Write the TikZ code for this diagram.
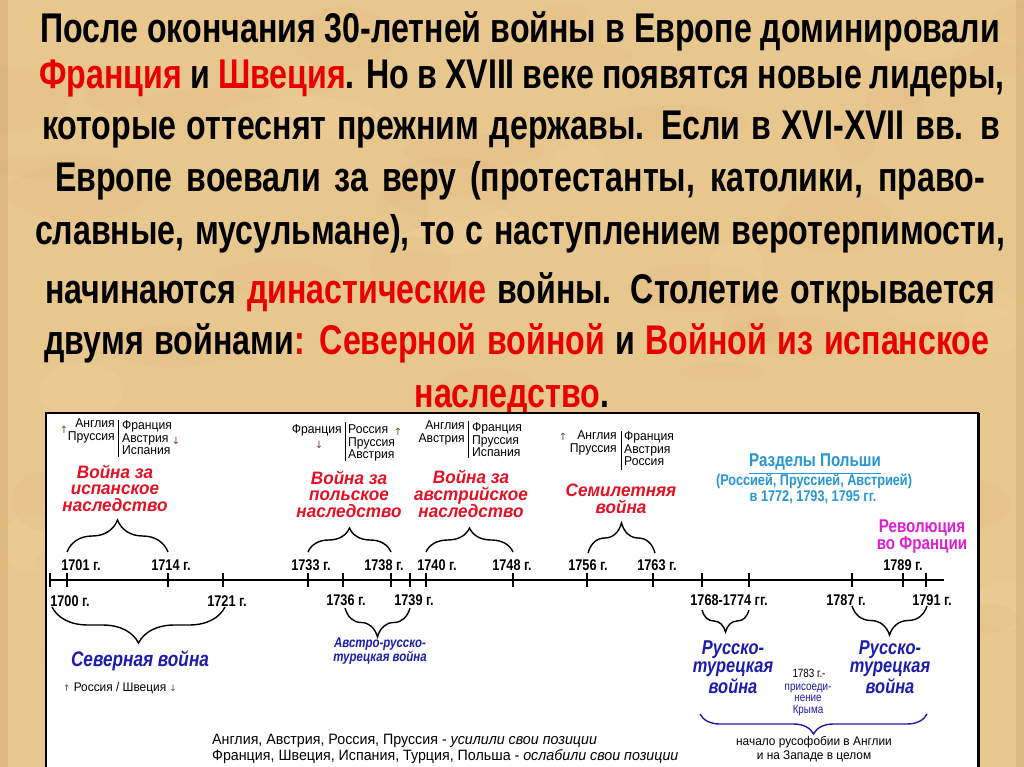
\documentclass[tikz,border=0pt]{standalone}
\usepackage{fontspec}
\setmainfont{Liberation Sans}[FakeStretch=0.82]
\newfontfamily\semiwide{Liberation Sans}[FakeStretch=0.95]
\newfontfamily\titleface{Liberation Sans}[FakeStretch=0.775]
\newfontfamily\arrowfont{DejaVu Sans}
\usetikzlibrary{decorations.pathreplacing}
\definecolor{parch}{RGB}{232,199,142}
\definecolor{parchdark}{RGB}{212,174,116}
\definecolor{parchlight}{RGB}{242,214,164}
\definecolor{titlered}{RGB}{232,0,0}
\definecolor{warred}{RGB}{228,16,36}
\definecolor{warblue}{RGB}{28,28,175}
\definecolor{partblue}{RGB}{38,150,212}
\definecolor{revmag}{RGB}{222,32,212}
\definecolor{arrowbrown}{RGB}{120,72,40}
\tikzset{
  tline/.style={font=\titleface\fontsize{41.5}{44}\selectfont\bfseries, inner sep=0, anchor=base},
  yr/.style={font=\fontsize{15.5}{16}\selectfont\bfseries, inner sep=0},
  cty/.style={font=\semiwide\fontsize{12.8}{12.5}\selectfont, inner sep=0},
  wart/.style={font=\semiwide\fontsize{18}{16.5}\selectfont\bfseries\itshape, text=warred, align=center, inner sep=0},
  bluewar/.style={font=\fontsize{20}{18.5}\selectfont\bfseries\itshape, text=warblue, align=center, inner sep=0},
  smallnote/.style={font=\fontsize{12}{11.8}\selectfont, inner sep=0, align=center},
  arr/.style={font=\arrowfont\fontsize{10}{10}\selectfont, text=arrowbrown, inner sep=0},
  tickmark/.style={line width=2.2pt},
  axisline/.style={line width=2.4pt},
  bar/.style={line width=1pt},
  brc/.style={decorate, decoration={brace, amplitude=#1}, line width=1.4pt},
  brcdown/.style={decorate, decoration={brace, mirror, amplitude=#1}, line width=1.4pt},
}
\begin{document}
\begin{tikzpicture}[x=1pt,y=-1pt]
\useasboundingbox (0,0) rectangle (1024,767);
\fill[parch] (0,0) rectangle (1024,767);
\pgfmathsetseed{7}
\foreach \i in {1,...,60}{
  \pgfmathsetmacro{\cx}{rnd*1024}
  \pgfmathsetmacro{\cy}{rnd*767}
  \pgfmathsetmacro{\rx}{20+rnd*60}
  \pgfmathsetmacro{\ry}{8+rnd*25}
  \pgfmathsetmacro{\sh}{rnd}
  \ifdim\sh pt<0.5pt
    \fill[parchdark, opacity=0.14] (\cx,\cy) ellipse [x radius=\rx, y radius=\ry];
  \else
    \fill[parchlight, opacity=0.2] (\cx,\cy) ellipse [x radius=\rx, y radius=\ry];
  \fi
}
\fill[parchdark, opacity=0.6] (0,0) rectangle (8,767);
\fill[parchdark, opacity=0.5] (1016,0) rectangle (1024,767);

% title text
\node[tline] (t1) at (520,43) {\makebox[960pt][s]{После окончания 30-летней войны в Европе доминировали}};
\node[tline] (t2) at (522,89) {\makebox[965pt][s]{\textcolor{titlered}{Франция} и \textcolor{titlered}{Швеция}. Но в XVIII веке появятся новые лидеры,}};
\node[tline] (t3) at (521,140) {\makebox[958pt][s]{которые оттеснят прежним державы. Если в XVI-XVII вв. в}};
\node[tline] (t4) at (520,192) {\makebox[930pt][s]{Европе воевали за веру (протестанты, католики, право-}};
\node[tline] (t5) at (520,244) {\makebox[970pt][s]{славные, мусульмане), то с наступлением веротерпимости,}};
\node[tline] (t6) at (520,303) {\makebox[950pt][s]{начинаются \textcolor{titlered}{династические} войны. Столетие открывается}};
\node[tline] (t7) at (517,354) {\makebox[945pt][s]{двумя войнами\textcolor{titlered}{: Северной войной} и \textcolor{titlered}{Войной из испанское}}};
\node[tline] (t8) at (512,407) {\textcolor{titlered}{наследство}.};

% panel
\draw[line width=2pt, fill=white] (46,413) rectangle (978,790);
\draw[line width=3pt] (978,413) -- (978,790);

% axis and ticks
\coordinate (axL) at (49,580);
\coordinate (axR) at (944,580);
\draw[axisline] (axL) -- (axR);
\foreach \n/\x in {1700/50,1701/67,1714/168,1721/223,1733/308,1736/343,1738/391,1739/410,1740/426,1748/513,1756/587,1763/653,1768/702,1774/749,1787/852,1789/903,1791/926}{
  \coordinate (y\n) at (\x,580);
  \draw[tickmark] ([yshift=7pt]y\n) -- ([yshift=-7pt]y\n);
}

% year labels above
\node[yr] (l1701) at (81,565) {1701 г.};
\node[yr] (l1714) at (171,565) {1714 г.};
\node[yr] (l1733) at (311,565) {1733 г.};
\node[yr] (l1738) at (384,565) {1738 г.};
\node[yr] (l1740) at (437,565) {1740 г.};
\node[yr] (l1748) at (512,565) {1748 г.};
\node[yr] (l1756) at (588,565) {1756 г.};
\node[yr] (l1763) at (657,565) {1763 г.};
\node[yr] (l1789) at (903,565) {1789 г.};
% year labels below
\node[yr] (l1700) at (70,601) {1700 г.};
\node[yr] (l1721) at (227,601) {1721 г.};
\node[yr] (l1736) at (346,600) {1736 г.};
\node[yr] (l1739) at (414,600) {1739 г.};
\node[yr] (l1768) at (729,600) {1768-1774 гг.};
\node[yr] (l1787) at (846,600) {1787 г.};
\node[yr] (l1791) at (932,600) {1791 г.};

% group 1: Spanish succession
\node[cty, align=right, anchor=east] (g1l) at (115,431) {Англия\\Пруссия};
\node[cty, align=left, anchor=west] (g1r) at (122,438) {Франция\\Австрия\\Испания};
\draw[bar] (118,420) coordinate (g1bt) -- (118,457) coordinate (g1bb);
\node[arr] (g1up) at (64,430) {↑};
\node[arr] (g1dn) at (176,441) {↓};
\node[wart] (w1) at (115,488) {Война за\\испанское\\наследство};
\coordinate (b1a) at (67,552);
\coordinate (b1b) at (168,552);
\draw[brc=32pt] (b1a) -- (b1b);

% group 2: Polish succession
\node[cty, anchor=east] (g2l) at (342,430) {Франция};
\node[cty, align=left, anchor=west] (g2r) at (348,443) {Россия\\Пруссия\\Австрия};
\draw[bar] (345,422) coordinate (g2bt) -- (345,461) coordinate (g2bb);
\node[arr] (g2dn) at (319,445) {↓};
\node[arr] (g2up) at (398,432) {↑};
\node[wart] (w2) at (349,494) {Война за\\польское\\наследство};
\coordinate (b2a) at (308,552);
\coordinate (b2b) at (391,552);
\draw[brc=24pt] (b2a) -- (b2b);

% group 3: Austrian succession
\node[cty, align=right, anchor=east] (g3l) at (465,433) {Англия\\Австрия};
\node[cty, align=left, anchor=west] (g3r) at (472,440) {Франция\\Пруссия\\Испания};
\draw[bar] (468,421) coordinate (g3bt) -- (468,458) coordinate (g3bb);
\node[wart] (w3) at (471,494) {Война за\\австрийское\\наследство};
\coordinate (b3a) at (426,552);
\coordinate (b3b) at (513,552);
\draw[brc=24pt] (b3a) -- (b3b);

% group 4: Seven Years War
\node[cty, align=right, anchor=east] (g4l) at (617,443) {Англия\\Пруссия};
\node[cty, align=left, anchor=west] (g4r) at (624,449) {Франция\\Австрия\\Россия};
\draw[bar] (621,431) coordinate (g4bt) -- (621,470) coordinate (g4bb);
\node[arr] (g4up) at (563,437) {↑};
\node[wart] (w4) at (621,499) {Семилетняя\\война};
\coordinate (b4a) at (588,553);
\coordinate (b4b) at (655,553);
\draw[brc=30pt] (b4a) -- (b4b);

% partitions of Poland
\node[font=\fontsize{18.5}{20}\selectfont\bfseries, text=partblue, inner sep=0] (p1) at (815,462) {Разделы Польши};
\draw[partblue, line width=1.3pt] ([yshift=-3pt]p1.south west) -- ([yshift=-3pt]p1.south east);
\node[font=\fontsize{15.5}{17}\selectfont\bfseries, text=partblue, inner sep=0] (p2) at (814,481) {(Россией, Пруссией, Австрией)};
\node[font=\fontsize{15.5}{17}\selectfont\bfseries, text=partblue, inner sep=0] (p3) at (813,497) {в 1772, 1793, 1795 гг.};

% revolution
\node[font=\fontsize{18.5}{17}\selectfont\bfseries, text=revmag, align=center, inner sep=0] (rev) at (922,537) {Революция\\во Франции};

% Northern war
\coordinate (bNa) at (52,607);
\coordinate (bNb) at (225,607);
\draw[brcdown=36pt] (bNa) -- (bNb);
\node[font=\fontsize{21}{22}\selectfont\bfseries\itshape, text=warblue, inner sep=0] (north) at (140,661) {Северная война};
\node[font=\semiwide\fontsize{12.5}{14}\selectfont, inner sep=0] (rs) at (120,688) {{\arrowfont\fontsize{9}{9}\selectfont\textcolor{arrowbrown}{↑}} Россия / Швеция {\arrowfont\fontsize{9}{9}\selectfont\textcolor{arrowbrown}{↓}}};

% Austro-Russian-Turkish war
\coordinate (bAa) at (345,608);
\coordinate (bAb) at (410,608);
\draw[brcdown=29pt] (bAa) -- (bAb);
\node[font=\fontsize{14}{12}\selectfont\bfseries\itshape, text=warblue, align=center, inner sep=0] (art) at (380,651) {Австро-русско-\\турецкая война};

% Russo-Turkish wars
\coordinate (bR1a) at (702,610);
\coordinate (bR1b) at (749,610);
\draw[brcdown=22pt] (bR1a) -- (bR1b);
\node[bluewar] (rt1) at (733,667) {Русско-\\турецкая\\война};
\coordinate (bR2a) at (852,606);
\coordinate (bR2b) at (927,606);
\draw[brcdown=29pt] (bR2a) -- (bR2b);
\node[bluewar] (rt2) at (890,667) {Русско-\\турецкая\\война};

% Crimea
\node[smallnote] (cr1) at (809,673) {1783 г.-};
\node[smallnote, text=warblue] (cr2) at (808,700) {присоеди-\\нение\\Крыма};
\coordinate (bBa) at (700,714);
\coordinate (bBb) at (927,714);
\draw[brcdown=20pt, warblue] (bBa) -- (bBb);
\node[font=\semiwide\fontsize{12.5}{14}\selectfont, align=center, inner sep=0] (rus) at (814,749) {начало русофобии в Англии\\и на Западе в целом};

% summary
\node[font=\semiwide\fontsize{15}{16}\selectfont, anchor=west, inner sep=0] (s1) at (212,741) {Англия, Австрия, Россия, Пруссия - \textit{усилили свои позиции}};
\node[font=\semiwide\fontsize{15}{16}\selectfont, anchor=west, inner sep=0] (s2) at (212,757) {Франция, Швеция, Испания, Турция, Польша - \textit{ослабили свои позиции}};
\end{tikzpicture}
\end{document}
